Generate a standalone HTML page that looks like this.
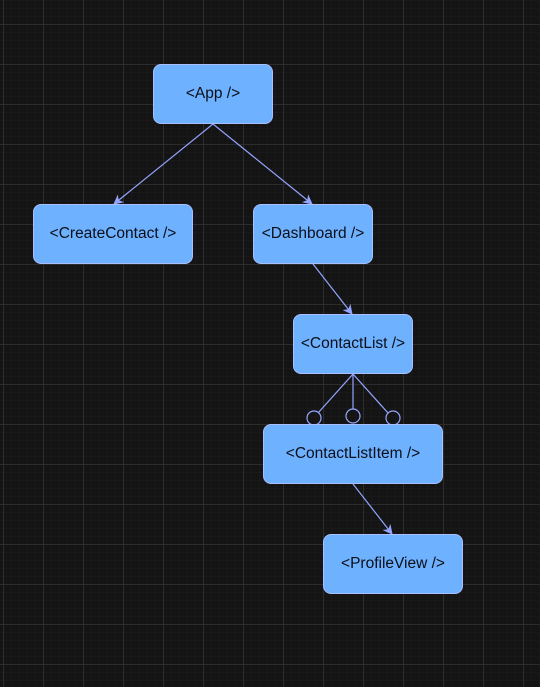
<!DOCTYPE html>
<html><head><style>
html,body{margin:0;padding:0;}
body{width:540px;height:687px;overflow:hidden;background-color:#141414;
background-image:
linear-gradient(to right,#2c2c2c 1px,transparent 1px),
linear-gradient(to bottom,#2c2c2c 1px,transparent 1px),
linear-gradient(to right,#191919 1px,transparent 1px),
linear-gradient(to bottom,#191919 1px,transparent 1px);
background-size:40px 40px,40px 40px,8px 8px,8px 8px;
background-position:3px 24px,3px 24px,3px 0,0 0;position:relative;font-family:"Liberation Sans",Arial,sans-serif;}
.n{position:absolute;box-sizing:border-box;background:#6eb1ff;border:1px solid #a9bfff;border-radius:8px;display:flex;align-items:center;justify-content:center;font-size:15.5px;color:#0b0f1a;height:60px;}
svg{position:absolute;left:0;top:0;}
</style></head><body>
<svg width="540" height="687">
<defs><marker id="a" markerWidth="10" markerHeight="10" refX="9" refY="5" orient="auto" markerUnits="userSpaceOnUse"><path d="M0,0 L10,5 L0,10 L3,5 Z" fill="#93a5ff"/></marker></defs>
<g stroke="#93a5ff" stroke-width="1.2" fill="none">
<line x1="213" y1="124" x2="114" y2="204" marker-end="url(#a)"/>
<line x1="213" y1="124" x2="312" y2="204" marker-end="url(#a)"/>
<line x1="313" y1="264" x2="352" y2="314" marker-end="url(#a)"/>
<line x1="353" y1="484" x2="392" y2="534" marker-end="url(#a)"/>
<line x1="353" y1="374" x2="318" y2="413"/>
<line x1="353" y1="374" x2="353" y2="409"/>
<line x1="353" y1="374" x2="388" y2="413"/>
<circle cx="314" cy="418" r="7"/>
<circle cx="353" cy="416" r="7"/>
<circle cx="393" cy="418" r="7"/>
</g></svg>
<div class="n" style="left:153px;top:64px;width:120px">&lt;App /&gt;</div>
<div class="n" style="left:33px;top:204px;width:160px">&lt;CreateContact /&gt;</div>
<div class="n" style="left:253px;top:204px;width:120px">&lt;Dashboard /&gt;</div>
<div class="n" style="left:293px;top:314px;width:120px">&lt;ContactList /&gt;</div>
<div class="n" style="left:263px;top:424px;width:180px">&lt;ContactListItem /&gt;</div>
<div class="n" style="left:323px;top:534px;width:140px">&lt;ProfileView /&gt;</div>
</body></html>
